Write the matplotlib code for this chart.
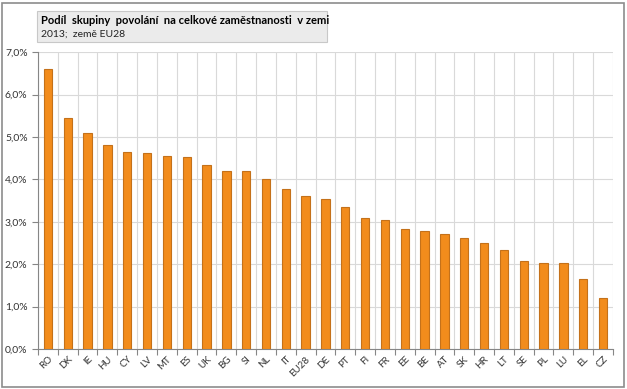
import matplotlib.pyplot as plt
import matplotlib.ticker as mticker
from matplotlib.patches import Rectangle
import numpy as np

plt.rcParams['font.family'] = ['Lato', 'DejaVu Sans']

countries = ['RO', 'DK', 'IE', 'HU', 'CY', 'LV', 'MT', 'ES', 'UK', 'BG', 'SI', 'NL', 'IT', 'EU28',
             'DE', 'PT', 'FI', 'FR', 'EE', 'BE', 'AT', 'SK', 'HR', 'LT', 'SE', 'PL', 'LU', 'EL', 'CZ']
shares = [6.60, 5.45, 5.09, 4.82, 4.64, 4.62, 4.55, 4.52, 4.33, 4.21, 4.21, 4.01, 3.77, 3.62,
          3.53, 3.36, 3.08, 3.04, 2.84, 2.78, 2.71, 2.61, 2.51, 2.33, 2.08, 2.04, 2.04, 1.66, 1.20]
title = 'Podíl  skupiny  povolání  na celkové zaměstnanosti  v zemi'
subtitle = '2013;  země EU28'

fig = plt.figure(figsize=(6.27, 3.89), dpi=100)
ax = fig.add_axes([0.0606, 0.1028, 0.917, 0.7628])

x = np.arange(len(countries))
ax.bar(x, shares, width=0.42, color='#F28C1C', edgecolor='#C4711A', linewidth=0.8, zorder=3)

ax.set_xlim(-0.5, len(countries) - 0.5)
ax.set_ylim(0, 7)
ax.yaxis.set_major_locator(mticker.MultipleLocator(1))
ax.yaxis.set_major_formatter(mticker.FuncFormatter(lambda v, p: f'{v:.1f}%'.replace('.', ',')))

# gridlines between categories
ax.set_xticks(x)
ax.set_xticklabels(countries, rotation=45, ha='right', rotation_mode='anchor', fontsize=7, color='#333333')
ax.set_xticks(np.arange(len(countries) + 1) - 0.5, minor=True)
ax.grid(True, which='minor', axis='x', color='#d9d9d9', linewidth=0.8, zorder=0)
ax.grid(True, which='major', axis='y', color='#d9d9d9', linewidth=0.8, zorder=0)
ax.tick_params(axis='x', which='major', length=0, pad=4)
ax.tick_params(axis='x', which='minor', length=4, color='#868686', width=0.8)
ax.tick_params(axis='y', length=4, color='#868686', width=0.8, labelsize=7.5, labelcolor='#333333')

for side in ['top', 'right']:
    ax.spines[side].set_visible(False)
for side in ['left', 'bottom']:
    ax.spines[side].set_color('#868686')
    ax.spines[side].set_linewidth(0.8)

# title box
fig.patches.append(Rectangle((37 / 627, 1 - 42 / 389), 290 / 627, 31 / 389, transform=fig.transFigure,
                             facecolor='#ebebeb', edgecolor='#c8c8c8', linewidth=0.8))
fig.text(41 / 627, 1 - 20 / 389, title, fontsize=8, fontweight='bold', va='center', ha='left')
fig.text(41 / 627, 1 - 34 / 389, subtitle, fontsize=7.5, va='center', ha='left', color='#222222')

# outer frame
fig.patches.append(Rectangle((2 / 627, 2 / 389), 622 / 627, 384 / 389, transform=fig.transFigure,
                             facecolor='none', edgecolor='#8c8c8c', linewidth=1.2))

fig.savefig('out.png', dpi=100)
